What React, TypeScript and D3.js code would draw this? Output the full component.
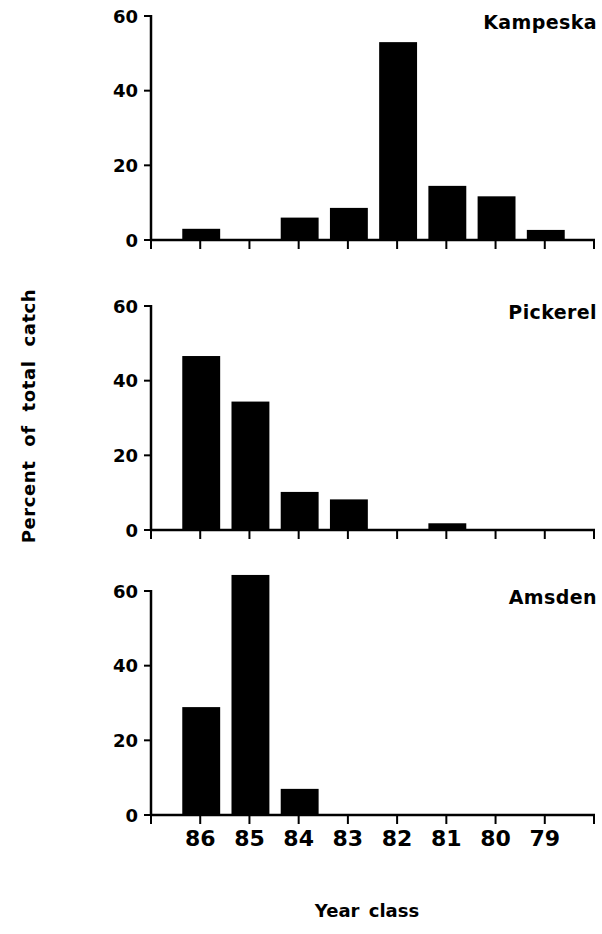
import React from "react";
import * as d3 from "d3";

const yearClasses = ["86", "85", "84", "83", "82", "81", "80", "79"];
const lakes = ["Kampeska", "Pickerel", "Amsden"];
const kampeska = [3, 0, 6, 8.6, 53, 14.5, 11.7, 2.7];
const pickerel = [46.6, 34.4, 10.2, 8.2, 0, 1.8, 0, 0];
const amsden = [28.9, 64.3, 7.0, 0, 0, 0, 0, 0];
const yTicks = [0, 20, 40, 60];
const seriesList = [kampeska, pickerel, amsden];

const W = 602;
const H = 934;
const axisX0 = 151;
const axisX1 = 594;
const panelTops = [16, 306, 591];
const panelH = 224;
const FONT = "'DejaVu Sans', sans-serif";

export default function App() {
  const x = d3.scaleLinear().domain([0, yearClasses.length + 1]).range([axisX0, axisX1]);
  const step = x(1) - x(0);
  const barW = step * 0.77;
  const xTickVals = d3.range(0, yearClasses.length + 2);

  return (
    <div style={{ position: "absolute", left: 0, top: 0 }}>
      <svg width={W} height={H} style={{ display: "block", background: "#fff" }}>
        {seriesList.map((vals, pi) => {
          const top = panelTops[pi];
          const y = d3.scaleLinear().domain([0, 60]).range([top + panelH, top]);
          const isLast = pi === seriesList.length - 1;
          return (
            <g key={lakes[pi]}>
              {vals.map((v, i) =>
                v > 0 ? (
                  <rect
                    key={i}
                    x={x(i + 1) - barW / 2 + 1}
                    y={y(v)}
                    width={barW}
                    height={y(0) - y(v)}
                    fill="#000"
                  />
                ) : null
              )}
              {/* y axis */}
              <line x1={axisX0} x2={axisX0} y1={y(60) - 1} y2={y(0) + 1} stroke="#000" strokeWidth={2.5} />
              {yTicks.map((t) => (
                <g key={t}>
                  <line x1={axisX0 - 7} x2={axisX0} y1={y(t)} y2={y(t)} stroke="#000" strokeWidth={2} />
                  <text
                    x={axisX0 - 13}
                    y={y(t)}
                    textAnchor="end"
                    dominantBaseline="central"
                    fontFamily={FONT}
                    fontWeight="bold"
                    fontSize={18}
                  >
                    {t}
                  </text>
                </g>
              ))}
              {/* x axis */}
              <line x1={axisX0 - 1} x2={axisX1 + 1} y1={y(0)} y2={y(0)} stroke="#000" strokeWidth={2.5} />
              {xTickVals.map((t) => (
                <line key={t} x1={x(t)} x2={x(t)} y1={y(0)} y2={y(0) + 9} stroke="#000" strokeWidth={2} />
              ))}
              {isLast &&
                yearClasses.map((c, i) => (
                  <text
                    key={c}
                    x={x(i + 1)}
                    y={y(0) + 31}
                    textAnchor="middle"
                    fontFamily={FONT}
                    fontWeight="bold"
                    fontSize={22}
                  >
                    {c}
                  </text>
                ))}
              <text
                x={597}
                y={top + 13}
                textAnchor="end"
                fontFamily={FONT}
                fontWeight="bold"
                fontSize={19}
                letterSpacing={0.4}
              >
                {lakes[pi]}
              </text>
            </g>
          );
        })}
        <text
          transform={`translate(35, 416) rotate(-90)`}
          textAnchor="middle"
          fontFamily={FONT}
          fontWeight="bold"
          fontSize={18}
          letterSpacing={0.6}
          wordSpacing={7}
        >
          Percent of total catch
        </text>
        <text
          x={367}
          y={917}
          textAnchor="middle"
          fontFamily={FONT}
          fontWeight="bold"
          fontSize={18}
          wordSpacing={3}
        >
          Year class
        </text>
      </svg>
    </div>
  );
}
